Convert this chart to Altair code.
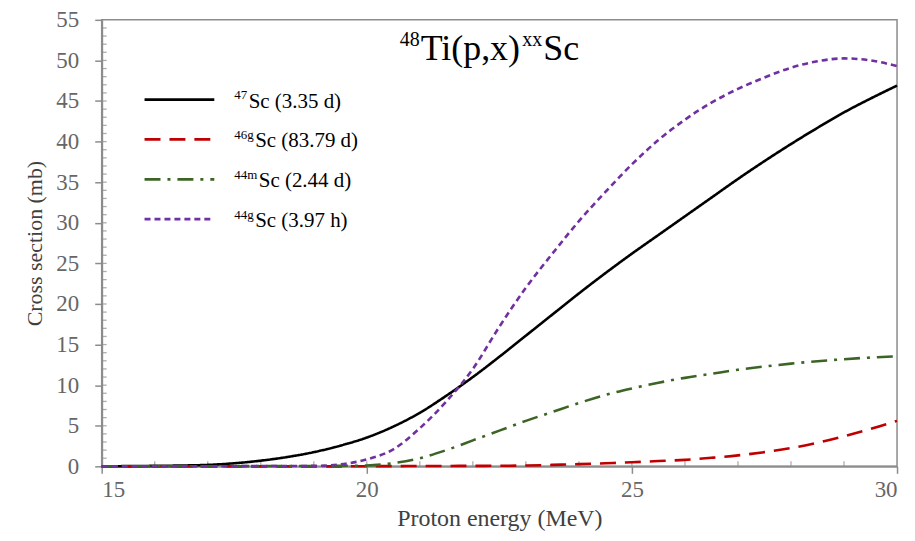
import altair as alt
import pandas as pd

# ---------------- data ----------------
energy = [15, 15.5, 16, 16.5, 17, 17.5, 18, 18.5, 19, 19.5, 20, 20.5, 21, 21.5, 22,
          22.5, 23, 23.5, 24, 24.5, 25, 25.5, 26, 26.5, 27, 27.5, 28, 28.5, 29, 29.5, 30]

sc47 = [0.0, 0.03, 0.06, 0.1, 0.18, 0.38, 0.7, 1.15, 1.75, 2.55, 3.55, 4.9, 6.6, 8.7, 11.0,
        13.5, 16.1, 18.7, 21.3, 23.8, 26.2, 28.5, 30.8, 33.1, 35.4, 37.6, 39.7, 41.7, 43.6, 45.3, 46.9]

sc46g = [0.0, 0.0, 0.0, 0.0, 0.0, 0.0, 0.0, 0.0, 0.0, 0.0, 0.02, 0.03, 0.04, 0.05, 0.06,
         0.07, 0.1, 0.18, 0.27, 0.38, 0.5, 0.65, 0.8, 1.05, 1.35, 1.75, 2.25, 2.9, 3.7, 4.6, 5.6]

sc44m = [0.0, 0.0, 0.0, 0.0, 0.0, 0.02, 0.03, 0.04, 0.05, 0.06, 0.1, 0.4, 1.0, 2.0, 3.2,
         4.4, 5.6, 6.7, 7.8, 8.8, 9.6, 10.3, 10.9, 11.4, 11.9, 12.3, 12.65, 12.95, 13.2, 13.4, 13.55]

sc44g = [0.0, 0.0, 0.0, 0.0, 0.0, 0.02, 0.03, 0.04, 0.06, 0.25, 0.85, 2.1, 4.7, 8.0, 12.0,
         17.2, 22.0, 26.2, 30.2, 33.8, 37.2, 40.2, 42.7, 44.8, 46.5, 47.9, 49.1, 49.9, 50.25, 50.0, 49.3]

series_keys = ["47Sc", "46gSc", "44mSc", "44gSc"]
series_sup = ["47", "46g", "44m", "44g"]
series_main = ["Sc (3.35 d)", "Sc (83.79 d)", "Sc (2.44 d)", "Sc (3.97 h)"]
series_vals = [sc47, sc46g, sc44m, sc44g]

x_ticks = [15, 20, 25, 30]
y_ticks = [0, 5, 10, 15, 20, 25, 30, 35, 40, 45, 50, 55]
x_minor = list(range(16, 30))
y_minor = list(range(1, 55))

# ---------------- styles ----------------
colors = ["#000000", "#c00000", "#3c6424", "#7030a0"]
dashes = [[1, 0], [16, 9], [16, 7, 3, 7], [6, 4]]
FONT = "Liberation Serif"
AXIS_GREY = "#8c8c8c"
W, H = 798, 448

rows = []
for key, vals in zip(series_keys, series_vals):
    for e, v in zip(energy, vals):
        rows.append({"energy": e, "cs": v, "isotope": key})
df = pd.DataFrame(rows)

xscale = alt.Scale(domain=[15, 30], nice=False, zero=False)
yscale = alt.Scale(domain=[0, 55], nice=False)

lines = alt.Chart(df).mark_line(strokeWidth=2.6, interpolate="monotone").encode(
    x=alt.X("energy:Q", scale=xscale,
            axis=alt.Axis(values=x_ticks, format="d", title="Proton energy (MeV)",
                          tickSize=7, labelPadding=5, titlePadding=5, titleFontSize=24)),
    y=alt.Y("cs:Q", scale=yscale,
            axis=alt.Axis(values=y_ticks, format="d", title="Cross section (mb)",
                          tickSize=7, labelPadding=16, titlePadding=9, titleFontSize=22)),
    color=alt.Color("isotope:N", scale=alt.Scale(domain=series_keys, range=colors), legend=None),
    strokeDash=alt.StrokeDash("isotope:N", scale=alt.Scale(domain=series_keys, range=dashes), legend=None),
    detail="isotope:N",
)

# inward minor ticks
ymin_df = pd.DataFrame({"tx": [15] * len(y_minor), "ty": y_minor})
xmin_df = pd.DataFrame({"tx": x_minor, "ty": [0] * len(x_minor)})
ytick_layer = alt.Chart(ymin_df).mark_tick(orient="horizontal", size=5, thickness=1.3,
                                           color=AXIS_GREY, xOffset=2.5).encode(
    x=alt.X("tx:Q", scale=xscale), y=alt.Y("ty:Q", scale=yscale))
xtick_layer = alt.Chart(xmin_df).mark_tick(orient="vertical", size=5, thickness=1.3,
                                           color=AXIS_GREY, yOffset=-2.5).encode(
    x=alt.X("tx:Q", scale=xscale), y=alt.Y("ty:Q", scale=yscale))

one = pd.DataFrame({"a": [0]})

# character widths for Times-like fonts (em)
CW = {"0": .5, "1": .5, "2": .5, "3": .5, "4": .5, "5": .5, "6": .5, "7": .5, "8": .5, "9": .5,
      "S": .556, "c": .444, "T": .611, "i": .278, "(": .333, ")": .333, "p": .5, ",": .25,
      "x": .5, "g": .5, "m": .778, " ": .25, "d": .5, "h": .5, ".": .25}


def tw(s, size):
    return sum(CW.get(ch, .5) for ch in s) * size


def txt(s, x, y, size, color="#000000"):
    return alt.Chart(one).mark_text(text=s, font=FONT, fontSize=size, align="left",
                                    baseline="alphabetic", color=color).encode(
        x=alt.value(x), y=alt.value(y))


# title  48Ti(p,x)xxSc
T_MAIN, T_SUP = 36, 20
parts = [("48", T_SUP, 26.5), ("Ti(p,x)", T_MAIN, 40.5), ("xx", T_SUP, 26.5), ("Sc", T_MAIN, 40.5)]
total = sum(tw(s, sz) for s, sz, _ in parts) + 3
cx = 389 - total / 2
title_layers = []
for s, sz, by in parts:
    title_layers.append(txt(s, cx, by, sz))
    cx += tw(s, sz) + 1

# legend
L_MAIN, L_SUP = 21, 13
legend_layers = []
for i, (sup, main) in enumerate(zip(series_sup, series_main)):
    ry = 80 + 40 * i
    legend_layers.append(
        alt.Chart(one).mark_rule(strokeWidth=2.8, color=colors[i], strokeDash=dashes[i]).encode(
            x=alt.value(43), x2=alt.value(113), y=alt.value(ry)))
    legend_layers.append(txt(sup, 133, ry - 0.5, L_SUP))
    legend_layers.append(txt(main, 133 + tw(sup, L_SUP) + 1.5, ry + 8, L_MAIN))

chart = alt.layer(xtick_layer, ytick_layer, lines, *title_layers, *legend_layers).properties(
    width=W, height=H,
    autosize=alt.AutoSizeParams(type="none"),
    padding={"left": 94, "top": 11, "right": 10, "bottom": 68},
    background="white",
).configure_view(
    stroke=AXIS_GREY, strokeWidth=1.5
).configure_axis(
    grid=False,
    domainColor=AXIS_GREY, domainWidth=2,
    tickColor=AXIS_GREY, tickWidth=1.5,
    labelFont=FONT, labelFontSize=23, labelColor="#666666",
    titleFont=FONT, titleColor="#404040", titleFontWeight="normal",
)

chart.save("out.html", embed_options={"renderer": "svg", "actions": False})
